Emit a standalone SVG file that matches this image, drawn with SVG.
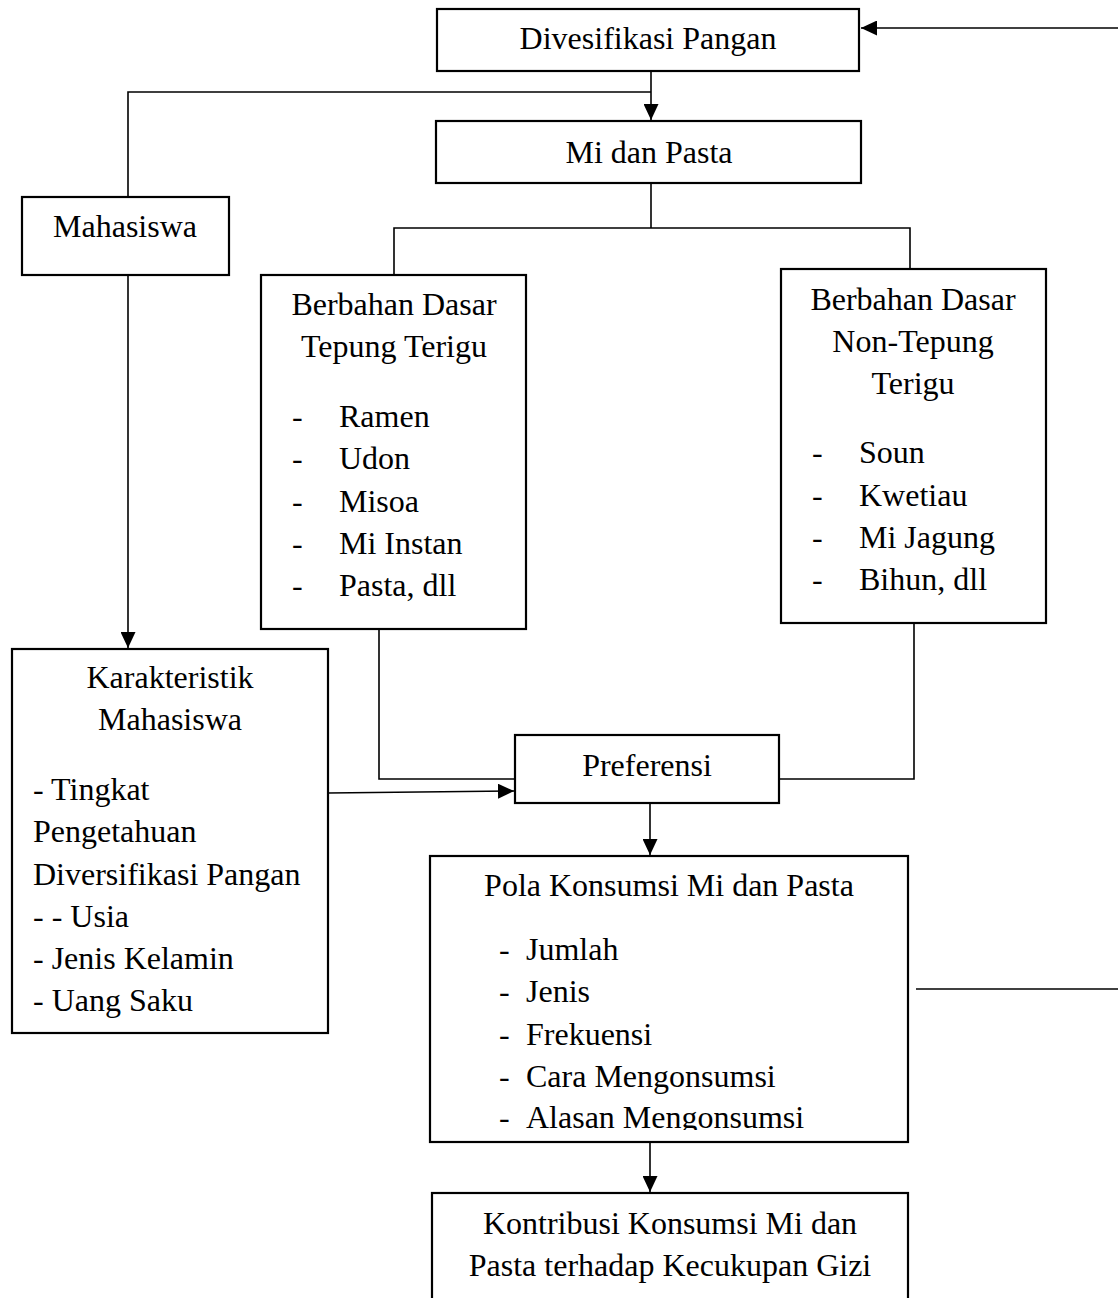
<svg xmlns="http://www.w3.org/2000/svg" width="1118" height="1298" viewBox="0 0 1118 1298">
  <style>
    .box { fill: #ffffff; stroke: #000000; stroke-width: 2.2; }
    .ln { fill: none; stroke: #000000; stroke-width: 1.6; }
    text { font-family: "Liberation Serif", "Times New Roman", serif; font-size: 32px; fill: #000000; }
    .c { text-anchor: middle; }
  </style>
  <defs>
    <marker id="arr" markerUnits="userSpaceOnUse" markerWidth="16" markerHeight="15" refX="16" refY="7.5" orient="auto">
      <path d="M0,0 L16,7.5 L0,15 z" fill="#000000"/>
    </marker>
    <clipPath id="polaClip">
      <rect x="430" y="856" width="478" height="274"/>
    </clipPath>
  </defs>
  <rect width="1118" height="1298" fill="#ffffff"/>

  <g id="connectors">
    <line class="ln" x1="1118" y1="28" x2="861" y2="28" marker-end="url(#arr)"/>
    <line class="ln" x1="651" y1="71" x2="651" y2="120" marker-end="url(#arr)"/>
    <polyline class="ln" points="651,92 128,92 128,197"/>
    <line class="ln" x1="128" y1="275" x2="128" y2="648" marker-end="url(#arr)"/>
    <line class="ln" x1="651" y1="183" x2="651" y2="228"/>
    <polyline class="ln" points="394,275 394,228 910,228 910,269"/>
    <polyline class="ln" points="379,629 379,779 515,779"/>
    <polyline class="ln" points="914,623 914,779 779,779"/>
    <line class="ln" x1="328" y1="793" x2="514" y2="791" marker-end="url(#arr)"/>
    <line class="ln" x1="650" y1="804" x2="650" y2="855" marker-end="url(#arr)"/>
    <line class="ln" x1="916" y1="989" x2="1118" y2="989"/>
    <line class="ln" x1="650" y1="1142" x2="650" y2="1192" marker-end="url(#arr)"/>
  </g>

  <g id="node-divesifikasi">
    <rect class="box" x="437" y="9" width="422" height="62"/>
    <text class="c" x="648" y="49">Divesifikasi Pangan</text>
  </g>

  <g id="node-mi-pasta">
    <rect class="box" x="436" y="121" width="425" height="62"/>
    <text class="c" x="649" y="163">Mi dan Pasta</text>
  </g>

  <g id="node-mahasiswa">
    <rect class="box" x="22" y="197" width="207" height="78"/>
    <text class="c" x="125" y="237">Mahasiswa</text>
  </g>

  <g id="node-tepung">
    <rect class="box" x="261" y="275" width="265" height="354"/>
    <text class="c" x="394" y="315">Berbahan Dasar</text>
    <text class="c" x="394" y="357">Tepung Terigu</text>
    <text x="292" y="427">-</text><text x="339" y="427">Ramen</text>
    <text x="292" y="469">-</text><text x="339" y="469">Udon</text>
    <text x="292" y="512">-</text><text x="339" y="512">Misoa</text>
    <text x="292" y="554">-</text><text x="339" y="554">Mi Instan</text>
    <text x="292" y="596">-</text><text x="339" y="596">Pasta, dll</text>
  </g>

  <g id="node-non-tepung">
    <rect class="box" x="781" y="269" width="265" height="354"/>
    <text class="c" x="913" y="310">Berbahan Dasar</text>
    <text class="c" x="913" y="352">Non-Tepung</text>
    <text class="c" x="913" y="394">Terigu</text>
    <text x="812" y="463">-</text><text x="859" y="463">Soun</text>
    <text x="812" y="506">-</text><text x="859" y="506">Kwetiau</text>
    <text x="812" y="548">-</text><text x="859" y="548">Mi Jagung</text>
    <text x="812" y="590">-</text><text x="859" y="590">Bihun, dll</text>
  </g>

  <g id="node-karakteristik">
    <rect class="box" x="12" y="649" width="316" height="384"/>
    <text class="c" x="170" y="688">Karakteristik</text>
    <text class="c" x="170" y="730">Mahasiswa</text>
    <text x="33" y="800">- Tingkat</text>
    <text x="33" y="842">Pengetahuan</text>
    <text x="33" y="885">Diversifikasi Pangan</text>
    <text x="33" y="927">- - Usia</text>
    <text x="33" y="969">- Jenis Kelamin</text>
    <text x="33" y="1011">- Uang Saku</text>
  </g>

  <g id="node-preferensi">
    <rect class="box" x="515" y="735" width="264" height="68"/>
    <text class="c" x="647" y="776">Preferensi</text>
  </g>

  <g id="node-pola">
    <rect class="box" x="430" y="856" width="478" height="286"/>
    <text class="c" x="669" y="896">Pola Konsumsi Mi dan Pasta</text>
    <text x="499" y="960">-</text><text x="526" y="960">Jumlah</text>
    <text x="499" y="1002">-</text><text x="526" y="1002">Jenis</text>
    <text x="499" y="1045">-</text><text x="526" y="1045">Frekuensi</text>
    <text x="499" y="1087">-</text><text x="526" y="1087">Cara Mengonsumsi</text>
    <g clip-path="url(#polaClip)">
      <text x="499" y="1128">-</text><text x="526" y="1128">Alasan Mengonsumsi</text>
    </g>
  </g>

  <g id="node-kontribusi">
    <rect class="box" x="432" y="1193" width="476" height="130"/>
    <text class="c" x="670" y="1234">Kontribusi Konsumsi Mi dan</text>
    <text class="c" x="670" y="1276">Pasta terhadap Kecukupan Gizi</text>
  </g>
</svg>
